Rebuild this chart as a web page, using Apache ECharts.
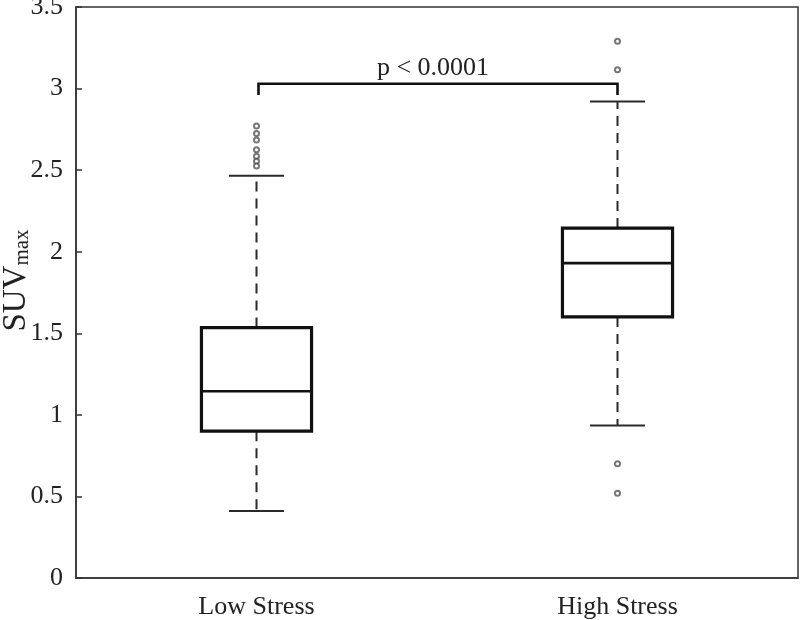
<!DOCTYPE html>
<html>
<head>
<meta charset="utf-8">
<script src="https://cdn.jsdelivr.net/npm/echarts@6/dist/echarts.min.js"></script>
<style>html,body{margin:0;padding:0;background:#fff;}#c{width:800px;height:620px;}</style>
</head>
<body>
<div id="c"></div>
<script>
const categories = ['Low Stress', 'High Stress'];
const lowerWhisker = [0.41, 0.935];
const q1 = [0.90, 1.60];
const median = [1.145, 1.93];
const q3 = [1.535, 2.145];
const upperWhisker = [2.465, 2.92];
const lowOutliers = [2.77, 2.725, 2.685, 2.625, 2.585, 2.555, 2.525];
const highOutliers = [3.29, 3.115, 0.70, 0.52];
const yTicks = [0, 0.5, 1, 1.5, 2, 2.5, 3, 3.5];
const pLabel = 'p < 0.0001';
const bracketTop = 3.03;
const bracketDrop = 2.96;
const bracketLabelY = 3.125;

const FONT = "'Liberation Serif', 'Times New Roman', serif";

const boxData = categories.map((c, i) => [i, lowerWhisker[i], q1[i], median[i], q3[i], upperWhisker[i]]);
const outlierData = [];
lowOutliers.forEach(v => outlierData.push([0, v]));
highOutliers.forEach(v => outlierData.push([1, v]));

const chart = echarts.init(document.getElementById('c'), null, {renderer: 'canvas'});

function renderBox(params, api) {
  const i = api.value(0);
  const pLo = api.coord([i, api.value(1)]);
  const pQ1 = api.coord([i, api.value(2)]);
  const pMed = api.coord([i, api.value(3)]);
  const pQ3 = api.coord([i, api.value(4)]);
  const pHi = api.coord([i, api.value(5)]);
  const bw = api.size([1, 0])[0] * 0.305;
  const cw = bw * 0.5;
  const x = pMed[0];
  const dashStyle = {stroke: '#2a2a2a', lineWidth: 2, lineDash: [10, 7]};
  const capStyle = {stroke: '#2a2a2a', lineWidth: 2};
  return {
    type: 'group',
    children: [
      {type: 'line', shape: {x1: x, y1: pQ3[1], x2: x, y2: pHi[1]}, style: dashStyle},
      {type: 'line', shape: {x1: x, y1: pQ1[1], x2: x, y2: pLo[1]}, style: dashStyle},
      {type: 'line', shape: {x1: x - cw / 2, y1: pHi[1], x2: x + cw / 2, y2: pHi[1]}, style: capStyle},
      {type: 'line', shape: {x1: x - cw / 2, y1: pLo[1], x2: x + cw / 2, y2: pLo[1]}, style: capStyle},
      {type: 'rect', shape: {x: x - bw / 2, y: pQ3[1], width: bw, height: pQ1[1] - pQ3[1]},
        style: {fill: '#fff', stroke: '#111', lineWidth: 3.2}},
      {type: 'line', shape: {x1: x - bw / 2, y1: pMed[1], x2: x + bw / 2, y2: pMed[1]},
        style: {stroke: '#111', lineWidth: 2.6}}
    ]
  };
}

function renderBracket(params, api) {
  const a = api.coord([api.value(0), api.value(2)]);
  const b = api.coord([api.value(1), api.value(2)]);
  const aD = api.coord([api.value(0), api.value(3)]);
  const bD = api.coord([api.value(1), api.value(3)]);
  const t = api.coord([api.value(0), api.value(4)]);
  const midX = (a[0] + b[0]) / 2 - 4;
  return {
    type: 'group',
    children: [
      {type: 'polyline', shape: {points: [[aD[0] + 2, aD[1]], [a[0] + 2, a[1]], [b[0], b[1]], [bD[0], bD[1]]]},
        style: {stroke: '#111', lineWidth: 2.6, fill: null}},
      {type: 'text', x: midX, y: t[1],
        style: {text: pLabel, fill: '#222', font: '26px ' + FONT, textAlign: 'center', textVerticalAlign: 'middle'}}
    ]
  };
}

chart.setOption({
  animation: false,
  backgroundColor: '#fff',
  grid: {left: 76, right: 2, top: 7, bottom: 42, containLabel: false, outerBoundsMode: 'none',
    show: true, borderColor: '#333', borderWidth: 1.5, backgroundColor: 'transparent'},
  xAxis: {
    type: 'category',
    data: categories,
    axisLine: {lineStyle: {color: '#333', width: 1.5}},
    axisTick: {inside: true, alignWithLabel: true, length: 7, lineStyle: {color: '#333', width: 1.5}},
    axisLabel: {color: '#222', fontFamily: FONT, fontSize: 26, margin: 16},
    splitLine: {show: false}
  },
  yAxis: {
    type: 'value',
    min: yTicks[0],
    max: yTicks[yTicks.length - 1],
    interval: 0.5,
    name: '{a|SUV}{b|max}',
    nameLocation: 'middle',
    nameRotate: 90,
    nameGap: 43,
    nameMoveOverlap: false,
    nameTextStyle: {
      rich: {
        a: {fontFamily: FONT, fontSize: 33, color: '#222', verticalAlign: 'bottom', padding: [0, 0, 0, 24]},
        b: {fontFamily: FONT, fontSize: 21, color: '#222', verticalAlign: 'bottom'}
      }
    },
    axisLine: {show: true, lineStyle: {color: '#333', width: 1.5}},
    axisTick: {show: true, inside: true, length: 6, lineStyle: {color: '#333', width: 1.5}},
    axisLabel: {color: '#222', fontFamily: FONT, fontSize: 26, margin: 13},
    splitLine: {show: false}
  },
  series: [
    {
      type: 'custom',
      renderItem: renderBox,
      data: boxData,
      encode: {x: 0, y: [1, 2, 3, 4, 5]},
      z: 2
    },
    {
      type: 'scatter',
      data: outlierData,
      symbol: 'emptyCircle',
      symbolSize: 5,
      itemStyle: {color: '#555', borderWidth: 1.2},
      z: 3
    },
    {
      type: 'custom',
      renderItem: renderBracket,
      data: [[0, 1, bracketTop, bracketDrop, bracketLabelY]],
      encode: {x: [0, 1], y: [2, 3, 4]},
      z: 4
    }
  ]
});
</script>
</body>
</html>
